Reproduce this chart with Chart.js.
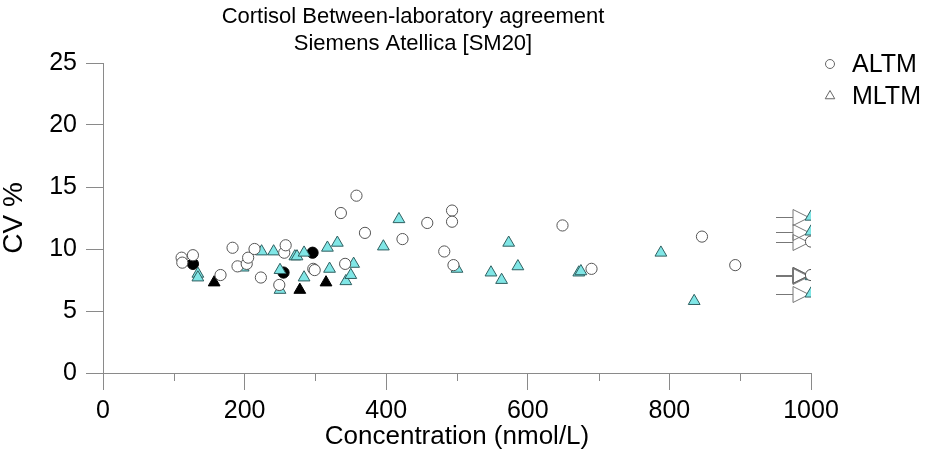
<!DOCTYPE html>
<html>
<head>
<meta charset="utf-8">
<script src="https://cdn.jsdelivr.net/npm/chart.js@4.4.1/dist/chart.umd.min.js"></script>
<style>
  html, body { margin: 0; padding: 0; background: #fff; }
  #wrap { width: 928px; height: 453px; }
</style>
</head>
<body>
<div id="wrap"><canvas id="myChart"></canvas></div>
<script>
// chart data
const chartTitle = ['Cortisol Between-laboratory agreement', 'Siemens Atellica [SM20]'];
const xTitle = 'Concentration (nmol/L)';
const yTitle = 'CV %';
const seriesNames = ['ALTM', 'MLTM'];

const xTicks = [0, 200, 400, 600, 800, 1000];
const xMinorTicks = [100, 300, 500, 700, 900];
const yTicks = [0, 5, 10, 15, 20, 25];

// ALTM (open circles)
const altmX = [111, 112, 127, 166, 183, 190, 203, 205, 214, 223, 249, 256, 258, 297, 299, 336, 342, 358, 370, 423, 458, 482, 493, 493, 495, 649, 690, 846, 893];
const altmY = [9.3, 8.9, 9.5, 7.9, 10.1, 8.6, 8.8, 9.3, 10.0, 7.7, 7.1, 9.7, 10.3, 8.4, 8.3, 12.9, 8.8, 14.3, 11.3, 10.8, 12.1, 9.8, 13.1, 12.2, 8.7, 11.9, 8.4, 11.0, 8.7];

// MLTM (cyan triangles)
const mltmX = [134, 134, 198, 224, 241, 250, 250, 271, 274, 284, 284, 317, 320, 331, 343, 350, 354, 396, 418, 500, 548, 563, 573, 586, 672, 675, 788, 835];
const mltmY = [8.0, 7.7, 8.5, 9.8, 9.8, 8.3, 6.7, 9.4, 9.4, 9.7, 7.7, 10.1, 8.4, 10.5, 7.4, 7.9, 8.8, 10.2, 12.4, 8.4, 8.1, 7.5, 10.5, 8.6, 8.1, 8.2, 9.7, 5.8];

// the laboratory's own results (filled black)
const labAltmX = [127, 255, 296];
const labAltmY = [8.8, 8.1, 9.7];
const labMltmX = [157, 278, 315];
const labMltmY = [7.3, 6.7, 7.3];

// results above the axis maximum, shown at the right edge with an arrow
const offAltmY = [10.6, 7.9];
const offMltmY = [12.6, 11.4, 7.8, 6.4];
const offLabY = [7.9];

const font = '"Liberation Sans", Arial, Helvetica, sans-serif';
const axisGray = '#8a8a8a';
const xMax = xTicks[xTicks.length - 1];

function toPoints(xs, ys) {
    return xs.map((x, i) => ({ x: x, y: ys[i] }));
}
function edgePoints(ys) {
    return ys.map(y => ({ x: xMax, y: y }));
}

// minor ticks, arrows for off-scale values, title and legend
const extrasPlugin = {
    id: 'extras',
    beforeDatasetsDraw(chart) {
        const ctx = chart.ctx;
        const xs = chart.scales.x;
        const ys = chart.scales.y;
        ctx.save();
        // minor ticks on the x axis
        ctx.strokeStyle = axisGray;
        ctx.lineWidth = 1;
        xMinorTicks.forEach(v => {
            const px = Math.round(xs.getPixelForValue(v)) + 0.5;
            ctx.beginPath();
            ctx.moveTo(px, ys.bottom);
            ctx.lineTo(px, ys.bottom + 8);
            ctx.stroke();
        });
        // arrows
        const drawArrow = (y, color) => {
            const px = xs.getPixelForValue(xMax);
            const py = Math.round(ys.getPixelForValue(y)) + 0.5;
            ctx.strokeStyle = color;
            ctx.beginPath();
            ctx.moveTo(px - 35, py);
            ctx.lineTo(px - 18, py);
            ctx.stroke();
            ctx.beginPath();
            ctx.moveTo(px - 18, py - 8);
            ctx.lineTo(px - 2, py);
            ctx.lineTo(px - 18, py + 8);
            ctx.closePath();
            ctx.stroke();
        };
        offLabY.forEach(y => drawArrow(y, '#000'));
        offAltmY.concat(offMltmY).forEach(y => drawArrow(y, '#777'));
        ctx.restore();
    },
    afterDraw(chart) {
        const ctx = chart.ctx;
        ctx.save();
        ctx.fillStyle = '#000';
        ctx.textAlign = 'center';
        ctx.textBaseline = 'middle';
        ctx.font = '22px ' + font;
        ctx.fillText(chartTitle[0], 413, 17);
        ctx.fillText(chartTitle[1], 413, 44);

        // legend
        ctx.textAlign = 'left';
        ctx.font = '25px ' + font;
        const legendStyles = ['circle', 'triangle'];
        seriesNames.forEach((name, i) => {
            const y = 64 + i * 32;
            ctx.fillStyle = '#fff';
            ctx.strokeStyle = '#666';
            ctx.lineWidth = 1;
            Chart.helpers.drawPoint(ctx, {
                pointStyle: legendStyles[i], radius: legendStyles[i] === 'circle' ? 4.5 : 5.5,
                borderWidth: 1, rotation: 0
            }, 830, y);
            ctx.fillStyle = '#000';
            ctx.fillText(name, 852, y + 1);
        });
        ctx.restore();
    }
};

const ctx = document.getElementById('myChart').getContext('2d');
const myChart = new Chart(ctx, {
    type: 'scatter',
    data: {
        datasets: [
            {
                label: seriesNames[0],
                data: toPoints(altmX, altmY).concat(edgePoints(offAltmY)),
                pointStyle: 'circle',
                pointRadius: 5.6,
                backgroundColor: '#fff',
                borderColor: '#555',
                borderWidth: 1
            },
            {
                label: seriesNames[1],
                data: toPoints(mltmX, mltmY).concat(edgePoints(offMltmY)),
                pointStyle: 'triangle',
                pointRadius: 6.8,
                backgroundColor: '#80e6e6',
                borderColor: '#2f5f60',
                borderWidth: 1
            },
            {
                label: 'lab ALTM',
                data: toPoints(labAltmX, labAltmY),
                pointStyle: 'circle',
                pointRadius: 5.6,
                backgroundColor: '#000',
                borderColor: '#000',
                borderWidth: 1
            },
            {
                label: 'lab MLTM',
                data: toPoints(labMltmX, labMltmY),
                pointStyle: 'triangle',
                pointRadius: 6.8,
                backgroundColor: '#000',
                borderColor: '#000',
                borderWidth: 1
            }
        ]
    },
    options: {
        responsive: true,
        maintainAspectRatio: false,
        animation: false,
        events: [],
        layout: {
            padding: { left: 0, top: 63, right: 117, bottom: 0 }
        },
        scales: {
            x: {
                type: 'linear',
                min: 0,
                max: xMax,
                afterFit: scale => { scale.height = 80; },
                afterBuildTicks: scale => { scale.ticks = xTicks.map(v => ({ value: v })); },
                ticks: {
                    color: '#000',
                    font: { family: font, size: 25 },
                    padding: 6,
                    maxRotation: 0,
                    callback: value => String(value)
                },
                grid: {
                    drawOnChartArea: false,
                    drawTicks: true,
                    tickLength: 17,
                    tickColor: axisGray
                },
                border: { display: true, color: axisGray, width: 1 },
                title: {
                    display: true,
                    text: xTitle,
                    color: '#000',
                    font: { family: font, size: 26 },
                    padding: { top: 1, bottom: 1 }
                }
            },
            y: {
                type: 'linear',
                min: 0,
                max: 25,
                afterFit: scale => { scale.width = 103; },
                afterBuildTicks: scale => { scale.ticks = yTicks.map(v => ({ value: v })); },
                ticks: {
                    color: '#000',
                    font: { family: font, size: 25 },
                    padding: 9,
                    callback: value => String(value)
                },
                grid: {
                    drawOnChartArea: false,
                    drawTicks: true,
                    tickLength: 17,
                    tickColor: axisGray
                },
                border: { display: true, color: axisGray, width: 1 },
                title: {
                    display: true,
                    text: yTitle,
                    color: '#000',
                    font: { family: font, size: 28, lineHeight: 1 },
                    padding: { top: 0, bottom: 0 }
                }
            }
        },
        plugins: {
            legend: { display: false },
            tooltip: { enabled: false },
            title: { display: false }
        }
    },
    plugins: [extrasPlugin]
});
</script>
</body>
</html>
